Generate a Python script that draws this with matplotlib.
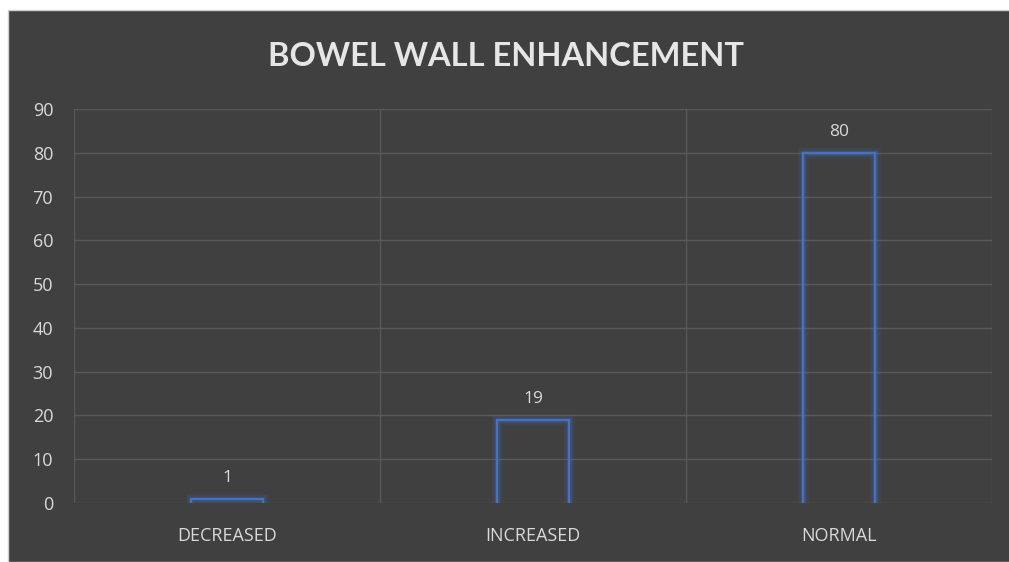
import matplotlib.pyplot as plt
from matplotlib.patches import Rectangle

# ── Data ──
categories = ['DECREASED', 'INCREASED', 'NORMAL']
counts     = [1, 19, 80]
y_ticks    = [0, 10, 20, 30, 40, 50, 60, 70, 80, 90]

BG     = '#404040'
GRID   = '#595959'
TEXT   = '#D9D9D9'
BLUE   = '#4472C4'
BAR_W  = 0.235
FONT   = 'Open Sans'

fig = plt.figure(figsize=(10.09, 5.62), dpi=100, facecolor='white')
fig.patches.append(Rectangle((8 / 1009, 0), 1, 1 - 10 / 562,
                             transform=fig.transFigure, facecolor=BG,
                             edgecolor='#D0D0D0', linewidth=1.0, zorder=-10))

ax = fig.add_axes([74 / 1009, 1 - 503 / 562, (992 - 74) / 1009, (503 - 109) / 562])
ax.set_zorder(1)
ax.patch.set_alpha(0)

x = list(range(len(categories)))

# outline bars, open at the base, with a soft glow
for xi, v in zip(x, counts):
    bx = [xi - BAR_W / 2, xi - BAR_W / 2, xi + BAR_W / 2, xi + BAR_W / 2]
    by = [0, v, v, 0]
    for lw, a in [(8, 0.08), (5.5, 0.12), (3.5, 0.2)]:
        ax.plot(bx, by, color=BLUE, linewidth=lw, alpha=a,
                solid_joinstyle='miter', zorder=3)
    ax.plot(bx, by, color=BLUE, linewidth=1.6, solid_joinstyle='miter', zorder=4)
    ax.annotate(str(v), (xi, v), xytext=(0, 9), textcoords='offset points',
                ha='center', va='bottom', color=TEXT, fontsize=12.5, family=FONT)

ax.set_xlim(-0.5, len(categories) - 0.5)
ax.set_ylim(0, 90)
ax.set_yticks(y_ticks)
ax.set_xticks(x)
ax.set_xticklabels(categories)
ax.set_xticks([i - 0.5 for i in range(len(categories) + 1)], minor=True)

ax.grid(True, axis='y', which='major', color=GRID, linewidth=1.0)
ax.grid(True, axis='x', which='minor', color=GRID, linewidth=1.0)
ax.grid(False, axis='x', which='major')
ax.set_axisbelow(True)

for s in ax.spines.values():
    s.set_visible(False)

ax.tick_params(axis='both', which='both', length=0, colors=TEXT, labelsize=13)
ax.tick_params(axis='y', pad=15)
ax.tick_params(axis='x', pad=17)
for lab in ax.get_xticklabels() + ax.get_yticklabels():
    lab.set_family(FONT)

fig.text(506 / 1009, 1 - 56 / 562, 'BOWEL WALL ENHANCEMENT', ha='center', va='center',
         color='#E6E6E6', fontsize=23.5, fontweight='bold', family='Lato')

fig.savefig('out.png', dpi=100, facecolor=fig.get_facecolor())
